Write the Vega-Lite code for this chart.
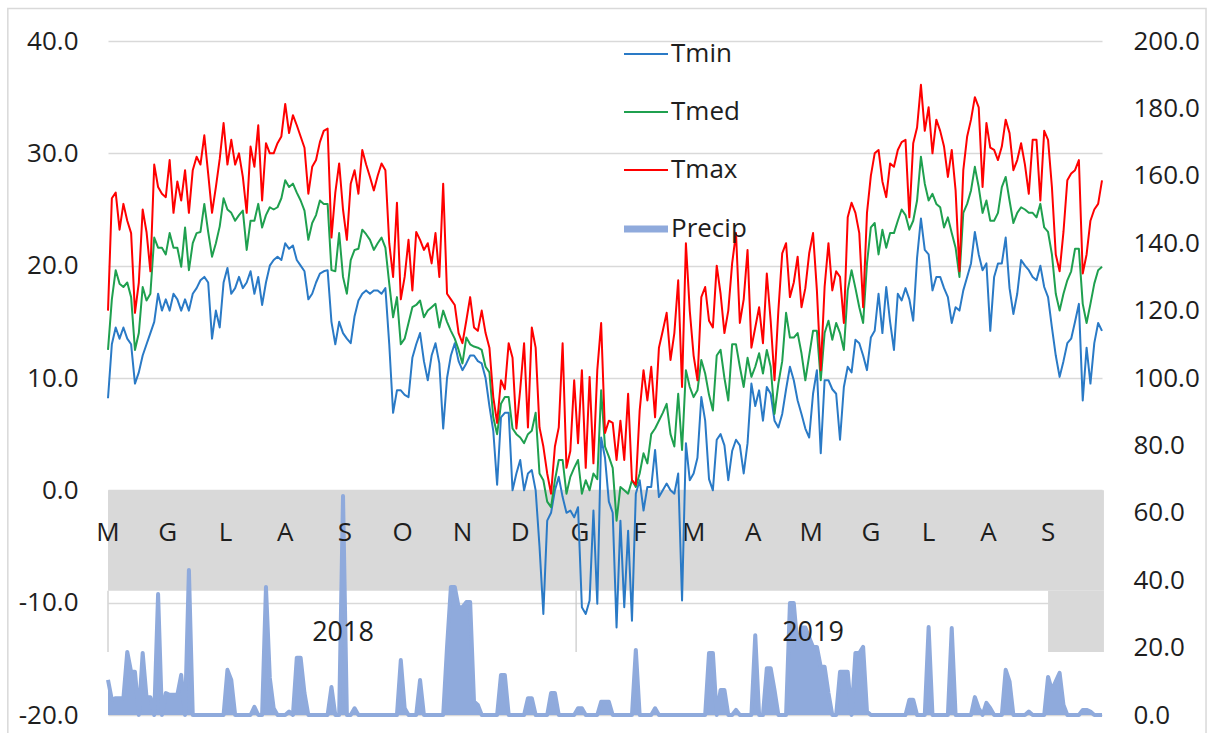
{
"$schema": "https://vega.github.io/schema/vega-lite/v6.json",
"width": 994,
"height": 674,
"autosize": {"type": "none"},
"padding": {"left": 108, "top": 41, "right": 110, "bottom": 18},
"background": "#ffffff",
"config": {
  "view": {"stroke": null},
  "font": "Open Sans",
  "axis": {"labelFont": "Open Sans", "labelFontSize": 26, "labelColor": "#1e1e1e", "ticks": false, "tickSize": 0, "domain": false, "title": null},
  "legend": {"labelFont": "Open Sans"}
},
"datasets": {
"wx": [
{"date":"2018-05-01","Tmin":8.2,"Tmed":12.5,"Tmax":16,"Precip":10.4},
{"date":"2018-05-03","Tmin":13,"Tmed":17,"Tmax":26,"Precip":4.5},
{"date":"2018-05-05","Tmin":14.5,"Tmed":19.6,"Tmax":26.5,"Precip":5},
{"date":"2018-05-07","Tmin":13.5,"Tmed":18.4,"Tmax":23.2,"Precip":5},
{"date":"2018-05-09","Tmin":14.5,"Tmed":18.1,"Tmax":25.5,"Precip":5},
{"date":"2018-05-11","Tmin":13.5,"Tmed":18.5,"Tmax":24,"Precip":18.7},
{"date":"2018-05-13","Tmin":13,"Tmed":17.2,"Tmax":22.9,"Precip":12.8},
{"date":"2018-05-15","Tmin":9.5,"Tmed":12.5,"Tmax":15.8,"Precip":12.8},
{"date":"2018-05-17","Tmin":10.5,"Tmed":14,"Tmax":18.5,"Precip":0},
{"date":"2018-05-19","Tmin":12,"Tmed":18.1,"Tmax":25,"Precip":18.4},
{"date":"2018-05-21","Tmin":13,"Tmed":16.9,"Tmax":23,"Precip":5.3},
{"date":"2018-05-23","Tmin":14,"Tmed":17.5,"Tmax":19.5,"Precip":5.3},
{"date":"2018-05-25","Tmin":15,"Tmed":22.5,"Tmax":29,"Precip":0},
{"date":"2018-05-27","Tmin":17.5,"Tmed":21.6,"Tmax":27,"Precip":35.9},
{"date":"2018-05-29","Tmin":16,"Tmed":21.6,"Tmax":26.4,"Precip":0},
{"date":"2018-05-31","Tmin":17,"Tmed":21,"Tmax":26.1,"Precip":6.5},
{"date":"2018-06-02","Tmin":16,"Tmed":22.9,"Tmax":29.4,"Precip":6},
{"date":"2018-06-04","Tmin":17.5,"Tmed":21.6,"Tmax":24.7,"Precip":6},
{"date":"2018-06-06","Tmin":17,"Tmed":21.6,"Tmax":27.5,"Precip":6},
{"date":"2018-06-08","Tmin":16,"Tmed":19.9,"Tmax":25.8,"Precip":11.9},
{"date":"2018-06-10","Tmin":17,"Tmed":23.4,"Tmax":28.5,"Precip":0},
{"date":"2018-06-12","Tmin":16,"Tmed":19.6,"Tmax":24.7,"Precip":43},
{"date":"2018-06-14","Tmin":17.5,"Tmed":22,"Tmax":28.5,"Precip":0},
{"date":"2018-06-16","Tmin":18,"Tmed":22.9,"Tmax":29.7,"Precip":0},
{"date":"2018-06-18","Tmin":18.7,"Tmed":23,"Tmax":29,"Precip":0},
{"date":"2018-06-20","Tmin":19,"Tmed":25.5,"Tmax":31.6,"Precip":0},
{"date":"2018-06-22","Tmin":18.5,"Tmed":23,"Tmax":28.2,"Precip":0},
{"date":"2018-06-24","Tmin":13.5,"Tmed":20.8,"Tmax":24.7,"Precip":0},
{"date":"2018-06-26","Tmin":16,"Tmed":22,"Tmax":27,"Precip":0},
{"date":"2018-06-28","Tmin":14.5,"Tmed":23.5,"Tmax":29.5,"Precip":0},
{"date":"2018-06-30","Tmin":18.5,"Tmed":26,"Tmax":32.7,"Precip":0},
{"date":"2018-07-02","Tmin":19.8,"Tmed":25,"Tmax":29,"Precip":13.4},
{"date":"2018-07-04","Tmin":17.5,"Tmed":24.7,"Tmax":31.2,"Precip":10.4},
{"date":"2018-07-06","Tmin":18,"Tmed":24,"Tmax":29,"Precip":0},
{"date":"2018-07-08","Tmin":19,"Tmed":24.5,"Tmax":30,"Precip":0},
{"date":"2018-07-10","Tmin":18,"Tmed":24.9,"Tmax":27.9,"Precip":0},
{"date":"2018-07-12","Tmin":18.5,"Tmed":21.4,"Tmax":24.7,"Precip":0},
{"date":"2018-07-14","Tmin":19.5,"Tmed":24,"Tmax":30.6,"Precip":0},
{"date":"2018-07-16","Tmin":17.5,"Tmed":24,"Tmax":28.8,"Precip":2.4},
{"date":"2018-07-18","Tmin":19,"Tmed":25.5,"Tmax":32.5,"Precip":0},
{"date":"2018-07-20","Tmin":16.5,"Tmed":23.4,"Tmax":25.8,"Precip":0},
{"date":"2018-07-22","Tmin":18.5,"Tmed":24.5,"Tmax":30.9,"Precip":38},
{"date":"2018-07-24","Tmin":20,"Tmed":25.2,"Tmax":30,"Precip":11},
{"date":"2018-07-26","Tmin":20.5,"Tmed":25,"Tmax":30,"Precip":2},
{"date":"2018-07-28","Tmin":20.8,"Tmed":25.2,"Tmax":30.9,"Precip":0},
{"date":"2018-07-30","Tmin":20.5,"Tmed":26,"Tmax":31.5,"Precip":0},
{"date":"2018-08-01","Tmin":22,"Tmed":27.6,"Tmax":34.4,"Precip":0},
{"date":"2018-08-03","Tmin":21.5,"Tmed":27,"Tmax":31.8,"Precip":1},
{"date":"2018-08-05","Tmin":21.8,"Tmed":27.3,"Tmax":33.4,"Precip":0},
{"date":"2018-08-07","Tmin":20.5,"Tmed":26.5,"Tmax":32.5,"Precip":17},
{"date":"2018-08-09","Tmin":20,"Tmed":25.8,"Tmax":31.5,"Precip":17},
{"date":"2018-08-11","Tmin":19.5,"Tmed":24.9,"Tmax":30.5,"Precip":6.5},
{"date":"2018-08-13","Tmin":17,"Tmed":22.3,"Tmax":26.4,"Precip":0},
{"date":"2018-08-15","Tmin":17.5,"Tmed":23.8,"Tmax":28.8,"Precip":0},
{"date":"2018-08-17","Tmin":18.5,"Tmed":24.5,"Tmax":29.4,"Precip":0},
{"date":"2018-08-19","Tmin":19.3,"Tmed":25.8,"Tmax":31,"Precip":0},
{"date":"2018-08-21","Tmin":19.5,"Tmed":25.5,"Tmax":32,"Precip":0},
{"date":"2018-08-23","Tmin":19.6,"Tmed":25.5,"Tmax":32.2,"Precip":0},
{"date":"2018-08-25","Tmin":15,"Tmed":19.6,"Tmax":22.5,"Precip":8.3},
{"date":"2018-08-27","Tmin":13,"Tmed":19.5,"Tmax":26.5,"Precip":0},
{"date":"2018-08-29","Tmin":15,"Tmed":22.9,"Tmax":29.1,"Precip":0},
{"date":"2018-08-31","Tmin":14,"Tmed":19,"Tmax":25,"Precip":65},
{"date":"2018-09-02","Tmin":13.5,"Tmed":17.5,"Tmax":22.3,"Precip":0},
{"date":"2018-09-04","Tmin":13.1,"Tmed":20.5,"Tmax":27.3,"Precip":0},
{"date":"2018-09-06","Tmin":15.5,"Tmed":21.4,"Tmax":28.5,"Precip":2},
{"date":"2018-09-08","Tmin":16.9,"Tmed":21.5,"Tmax":26.4,"Precip":0},
{"date":"2018-09-10","Tmin":17.5,"Tmed":23.2,"Tmax":30.3,"Precip":0},
{"date":"2018-09-12","Tmin":17.8,"Tmed":22.8,"Tmax":29,"Precip":0},
{"date":"2018-09-14","Tmin":17.5,"Tmed":22.3,"Tmax":27.9,"Precip":0},
{"date":"2018-09-16","Tmin":17.8,"Tmed":21.4,"Tmax":26.7,"Precip":0},
{"date":"2018-09-18","Tmin":17.8,"Tmed":22,"Tmax":28,"Precip":0},
{"date":"2018-09-20","Tmin":17.5,"Tmed":22.5,"Tmax":29.1,"Precip":0},
{"date":"2018-09-22","Tmin":18,"Tmed":21.6,"Tmax":28.5,"Precip":0},
{"date":"2018-09-24","Tmin":13,"Tmed":18.4,"Tmax":22,"Precip":0},
{"date":"2018-09-26","Tmin":6.9,"Tmed":15.4,"Tmax":19,"Precip":0},
{"date":"2018-09-28","Tmin":8.9,"Tmed":17.2,"Tmax":25.6,"Precip":0},
{"date":"2018-09-30","Tmin":8.9,"Tmed":13,"Tmax":17,"Precip":16.3},
{"date":"2018-10-02","Tmin":8.5,"Tmed":13.5,"Tmax":19,"Precip":2},
{"date":"2018-10-04","Tmin":8.3,"Tmed":14.9,"Tmax":22.3,"Precip":0},
{"date":"2018-10-06","Tmin":11.8,"Tmed":16.3,"Tmax":17.8,"Precip":0},
{"date":"2018-10-08","Tmin":13,"Tmed":16.5,"Tmax":23,"Precip":0},
{"date":"2018-10-10","Tmin":14,"Tmed":16.9,"Tmax":22.3,"Precip":10.4},
{"date":"2018-10-12","Tmin":11.5,"Tmed":15.4,"Tmax":21.4,"Precip":0},
{"date":"2018-10-14","Tmin":9.8,"Tmed":16,"Tmax":22,"Precip":0},
{"date":"2018-10-16","Tmin":12,"Tmed":16.3,"Tmax":20.2,"Precip":0},
{"date":"2018-10-18","Tmin":13.1,"Tmed":16.6,"Tmax":22.9,"Precip":0},
{"date":"2018-10-20","Tmin":11.3,"Tmed":14.5,"Tmax":19,"Precip":0},
{"date":"2018-10-22","Tmin":5.5,"Tmed":16,"Tmax":27.3,"Precip":0},
{"date":"2018-10-24","Tmin":10,"Tmed":15,"Tmax":17.5,"Precip":20.2},
{"date":"2018-10-26","Tmin":12,"Tmed":14.2,"Tmax":17,"Precip":38},
{"date":"2018-10-28","Tmin":13.1,"Tmed":13.5,"Tmax":16.5,"Precip":38},
{"date":"2018-10-30","Tmin":11.5,"Tmed":12.5,"Tmax":14,"Precip":32},
{"date":"2018-11-01","Tmin":10.7,"Tmed":11.3,"Tmax":13.1,"Precip":32},
{"date":"2018-11-03","Tmin":11.3,"Tmed":13.6,"Tmax":15.1,"Precip":33.5},
{"date":"2018-11-05","Tmin":12,"Tmed":13,"Tmax":17.2,"Precip":33.5},
{"date":"2018-11-07","Tmin":12,"Tmed":12.8,"Tmax":14.5,"Precip":4},
{"date":"2018-11-09","Tmin":11.5,"Tmed":12.7,"Tmax":14.2,"Precip":3},
{"date":"2018-11-11","Tmin":11.3,"Tmed":12.5,"Tmax":16,"Precip":0},
{"date":"2018-11-13","Tmin":10,"Tmed":11,"Tmax":14,"Precip":0},
{"date":"2018-11-15","Tmin":7.5,"Tmed":10.5,"Tmax":12.7,"Precip":0},
{"date":"2018-11-17","Tmin":5.3,"Tmed":6.5,"Tmax":8.3,"Precip":0},
{"date":"2018-11-19","Tmin":0.5,"Tmed":5,"Tmax":6,"Precip":0},
{"date":"2018-11-21","Tmin":6.5,"Tmed":7.7,"Tmax":9.8,"Precip":11.9},
{"date":"2018-11-23","Tmin":6.9,"Tmed":8.3,"Tmax":9,"Precip":11.9},
{"date":"2018-11-25","Tmin":6.9,"Tmed":8.3,"Tmax":13.1,"Precip":0},
{"date":"2018-11-27","Tmin":0,"Tmed":5.5,"Tmax":11.8,"Precip":0},
{"date":"2018-11-29","Tmin":1.5,"Tmed":5,"Tmax":5.5,"Precip":0},
{"date":"2018-12-01","Tmin":2.7,"Tmed":4.7,"Tmax":9,"Precip":0},
{"date":"2018-12-03","Tmin":0,"Tmed":4.2,"Tmax":13.1,"Precip":0},
{"date":"2018-12-05","Tmin":1.5,"Tmed":5,"Tmax":5.6,"Precip":5},
{"date":"2018-12-07","Tmin":1.8,"Tmed":5.3,"Tmax":14.5,"Precip":5},
{"date":"2018-12-09","Tmin":0,"Tmed":6.9,"Tmax":12.7,"Precip":0},
{"date":"2018-12-11","Tmin":-5,"Tmed":1.5,"Tmax":5.6,"Precip":0},
{"date":"2018-12-13","Tmin":-11,"Tmed":0.9,"Tmax":3.9,"Precip":0},
{"date":"2018-12-15","Tmin":-2.7,"Tmed":-1,"Tmax":1.5,"Precip":0},
{"date":"2018-12-17","Tmin":-2,"Tmed":-1.5,"Tmax":-0.3,"Precip":6.5},
{"date":"2018-12-19","Tmin":0,"Tmed":0.9,"Tmax":3.9,"Precip":6.5},
{"date":"2018-12-21","Tmin":1.2,"Tmed":2.7,"Tmax":5.6,"Precip":0},
{"date":"2018-12-23","Tmin":-0.6,"Tmed":2.7,"Tmax":13.1,"Precip":0},
{"date":"2018-12-25","Tmin":-2,"Tmed":-0.3,"Tmax":2,"Precip":0},
{"date":"2018-12-27","Tmin":-1.8,"Tmed":1.2,"Tmax":3.5,"Precip":0},
{"date":"2018-12-29","Tmin":-2.4,"Tmed":2,"Tmax":9.8,"Precip":0},
{"date":"2018-12-31","Tmin":-1.5,"Tmed":2.7,"Tmax":4.2,"Precip":2},
{"date":"2019-01-02","Tmin":-10.4,"Tmed":-0.3,"Tmax":10.7,"Precip":2},
{"date":"2019-01-04","Tmin":-11,"Tmed":0.9,"Tmax":2,"Precip":0},
{"date":"2019-01-06","Tmin":-9.8,"Tmed":0,"Tmax":10.1,"Precip":0},
{"date":"2019-01-08","Tmin":-1.8,"Tmed":1.5,"Tmax":2.4,"Precip":0},
{"date":"2019-01-10","Tmin":-10.1,"Tmed":1,"Tmax":10.7,"Precip":0},
{"date":"2019-01-12","Tmin":4.7,"Tmed":8.9,"Tmax":14.9,"Precip":3.9},
{"date":"2019-01-14","Tmin":2.9,"Tmed":3.9,"Tmax":5.1,"Precip":3.9},
{"date":"2019-01-16","Tmin":-1,"Tmed":3,"Tmax":6.2,"Precip":3.9},
{"date":"2019-01-18","Tmin":-2,"Tmed":2,"Tmax":6,"Precip":0},
{"date":"2019-01-20","Tmin":-12.2,"Tmed":-2.7,"Tmax":2.7,"Precip":0},
{"date":"2019-01-22","Tmin":-2.7,"Tmed":0.3,"Tmax":6.2,"Precip":0},
{"date":"2019-01-24","Tmin":-10.4,"Tmed":0,"Tmax":2.7,"Precip":0},
{"date":"2019-01-26","Tmin":-3.6,"Tmed":-0.3,"Tmax":8.6,"Precip":0},
{"date":"2019-01-28","Tmin":-11.6,"Tmed":0.9,"Tmax":0.9,"Precip":0},
{"date":"2019-01-30","Tmin":-0.3,"Tmed":0.3,"Tmax":0.5,"Precip":19.3},
{"date":"2019-02-01","Tmin":0.9,"Tmed":1.5,"Tmax":7.1,"Precip":0},
{"date":"2019-02-03","Tmin":-1.8,"Tmed":3.3,"Tmax":10.7,"Precip":0},
{"date":"2019-02-05","Tmin":0.3,"Tmed":2.4,"Tmax":8,"Precip":0},
{"date":"2019-02-07","Tmin":0.3,"Tmed":5,"Tmax":11,"Precip":0},
{"date":"2019-02-09","Tmin":3.6,"Tmed":5.5,"Tmax":6.5,"Precip":2},
{"date":"2019-02-11","Tmin":-0.6,"Tmed":6.2,"Tmax":12.7,"Precip":0},
{"date":"2019-02-13","Tmin":0,"Tmed":6.9,"Tmax":14.2,"Precip":0},
{"date":"2019-02-15","Tmin":0.6,"Tmed":7.7,"Tmax":15.8,"Precip":0},
{"date":"2019-02-17","Tmin":0,"Tmed":5,"Tmax":11.6,"Precip":0},
{"date":"2019-02-19","Tmin":-0.3,"Tmed":3.9,"Tmax":14,"Precip":0},
{"date":"2019-02-21","Tmin":1.5,"Tmed":8.6,"Tmax":18.7,"Precip":0},
{"date":"2019-02-23","Tmin":-9.8,"Tmed":3.6,"Tmax":9.2,"Precip":0},
{"date":"2019-02-25","Tmin":4.2,"Tmed":10.7,"Tmax":22,"Precip":0},
{"date":"2019-02-27","Tmin":0.9,"Tmed":9.2,"Tmax":16,"Precip":0},
{"date":"2019-03-01","Tmin":1.5,"Tmed":8.3,"Tmax":12,"Precip":0},
{"date":"2019-03-03","Tmin":2.9,"Tmed":8.9,"Tmax":9.8,"Precip":0},
{"date":"2019-03-05","Tmin":8.3,"Tmed":11.6,"Tmax":17.2,"Precip":0},
{"date":"2019-03-07","Tmin":6.2,"Tmed":10.4,"Tmax":18.1,"Precip":0},
{"date":"2019-03-09","Tmin":1,"Tmed":8.5,"Tmax":15.1,"Precip":18.4},
{"date":"2019-03-11","Tmin":0,"Tmed":7.1,"Tmax":14.5,"Precip":18.4},
{"date":"2019-03-13","Tmin":4.5,"Tmed":12,"Tmax":20,"Precip":0},
{"date":"2019-03-15","Tmin":5,"Tmed":12.5,"Tmax":17.5,"Precip":7.4},
{"date":"2019-03-17","Tmin":4,"Tmed":10,"Tmax":14,"Precip":7.4},
{"date":"2019-03-19","Tmin":0.9,"Tmed":8,"Tmax":16,"Precip":0},
{"date":"2019-03-21","Tmin":3.5,"Tmed":13,"Tmax":20.2,"Precip":0},
{"date":"2019-03-23","Tmin":4.5,"Tmed":13,"Tmax":22.9,"Precip":1.5},
{"date":"2019-03-25","Tmin":4,"Tmed":11,"Tmax":14.9,"Precip":0},
{"date":"2019-03-27","Tmin":1.5,"Tmed":9.2,"Tmax":17,"Precip":0},
{"date":"2019-03-29","Tmin":4.2,"Tmed":11.8,"Tmax":21.4,"Precip":0},
{"date":"2019-03-31","Tmin":9.5,"Tmed":10.1,"Tmax":12.7,"Precip":0},
{"date":"2019-04-02","Tmin":7.5,"Tmed":11,"Tmax":14.5,"Precip":23.7},
{"date":"2019-04-04","Tmin":8.9,"Tmed":12.2,"Tmax":16.3,"Precip":0},
{"date":"2019-04-06","Tmin":6.2,"Tmed":10.4,"Tmax":13.1,"Precip":0},
{"date":"2019-04-08","Tmin":9.2,"Tmed":12.5,"Tmax":19.3,"Precip":13.9},
{"date":"2019-04-10","Tmin":8.6,"Tmed":11,"Tmax":15.1,"Precip":13.9},
{"date":"2019-04-12","Tmin":6.2,"Tmed":6.8,"Tmax":9.8,"Precip":7.4},
{"date":"2019-04-14","Tmin":5.6,"Tmed":9.5,"Tmax":16,"Precip":0},
{"date":"2019-04-16","Tmin":6.8,"Tmed":11.5,"Tmax":21.1,"Precip":0},
{"date":"2019-04-18","Tmin":9,"Tmed":15.8,"Tmax":22,"Precip":0},
{"date":"2019-04-20","Tmin":11,"Tmed":13.6,"Tmax":17.2,"Precip":33.2},
{"date":"2019-04-22","Tmin":9.8,"Tmed":13.6,"Tmax":18.5,"Precip":33.2},
{"date":"2019-04-24","Tmin":8,"Tmed":14,"Tmax":20.8,"Precip":20},
{"date":"2019-04-26","Tmin":6.8,"Tmed":12.2,"Tmax":16.3,"Precip":26},
{"date":"2019-04-28","Tmin":5.5,"Tmed":9.8,"Tmax":18,"Precip":26},
{"date":"2019-04-30","Tmin":4.7,"Tmed":12,"Tmax":21.1,"Precip":23},
{"date":"2019-05-02","Tmin":8.6,"Tmed":14.2,"Tmax":22.9,"Precip":20.2},
{"date":"2019-05-04","Tmin":10.7,"Tmed":14.2,"Tmax":17.8,"Precip":20.2},
{"date":"2019-05-06","Tmin":3.3,"Tmed":9.8,"Tmax":10.7,"Precip":14.3},
{"date":"2019-05-08","Tmin":9.8,"Tmed":14,"Tmax":18.1,"Precip":14.3},
{"date":"2019-05-10","Tmin":9.8,"Tmed":15.1,"Tmax":22,"Precip":6.5},
{"date":"2019-05-12","Tmin":9,"Tmed":13.4,"Tmax":17.8,"Precip":0},
{"date":"2019-05-14","Tmin":8.6,"Tmed":14.9,"Tmax":19.5,"Precip":0},
{"date":"2019-05-16","Tmin":4.5,"Tmed":14,"Tmax":19,"Precip":12.8},
{"date":"2019-05-18","Tmin":9.2,"Tmed":12.5,"Tmax":14.9,"Precip":12.8},
{"date":"2019-05-20","Tmin":11,"Tmed":17.8,"Tmax":24.3,"Precip":12.8},
{"date":"2019-05-22","Tmin":10.5,"Tmed":19.6,"Tmax":25.6,"Precip":0},
{"date":"2019-05-24","Tmin":13.4,"Tmed":18,"Tmax":24.7,"Precip":18.4},
{"date":"2019-05-26","Tmin":13.1,"Tmed":16.3,"Tmax":22.9,"Precip":18.4},
{"date":"2019-05-28","Tmin":12,"Tmed":14.9,"Tmax":16.3,"Precip":20.2},
{"date":"2019-05-30","Tmin":10.7,"Tmed":20.2,"Tmax":24.7,"Precip":1},
{"date":"2019-06-01","Tmin":13.6,"Tmed":23.4,"Tmax":28,"Precip":0},
{"date":"2019-06-03","Tmin":14.2,"Tmed":23.8,"Tmax":30,"Precip":0},
{"date":"2019-06-05","Tmin":17.5,"Tmed":21,"Tmax":30.3,"Precip":0},
{"date":"2019-06-07","Tmin":14,"Tmed":23.2,"Tmax":27.5,"Precip":0},
{"date":"2019-06-09","Tmin":18.1,"Tmed":21.6,"Tmax":26.1,"Precip":0},
{"date":"2019-06-11","Tmin":15,"Tmed":22.9,"Tmax":29.1,"Precip":0},
{"date":"2019-06-13","Tmin":12.5,"Tmed":22.9,"Tmax":28.8,"Precip":0},
{"date":"2019-06-15","Tmin":17.5,"Tmed":24,"Tmax":30.3,"Precip":0},
{"date":"2019-06-17","Tmin":16.9,"Tmed":25,"Tmax":31,"Precip":0},
{"date":"2019-06-19","Tmin":18,"Tmed":24.5,"Tmax":31.2,"Precip":0},
{"date":"2019-06-21","Tmin":17,"Tmed":23.2,"Tmax":24.3,"Precip":4.5},
{"date":"2019-06-23","Tmin":15.1,"Tmed":24,"Tmax":30.9,"Precip":4.5},
{"date":"2019-06-25","Tmin":20.7,"Tmed":25.8,"Tmax":32.3,"Precip":0},
{"date":"2019-06-27","Tmin":24.2,"Tmed":29.7,"Tmax":36.1,"Precip":0},
{"date":"2019-06-29","Tmin":21.4,"Tmed":27.3,"Tmax":32,"Precip":0},
{"date":"2019-07-01","Tmin":21,"Tmed":25.8,"Tmax":34.1,"Precip":26.1},
{"date":"2019-07-03","Tmin":17.8,"Tmed":26.4,"Tmax":30,"Precip":0},
{"date":"2019-07-05","Tmin":19,"Tmed":25.5,"Tmax":33,"Precip":0},
{"date":"2019-07-07","Tmin":19,"Tmed":25.2,"Tmax":32,"Precip":0},
{"date":"2019-07-09","Tmin":18,"Tmed":23.4,"Tmax":30.6,"Precip":0},
{"date":"2019-07-11","Tmin":17.2,"Tmed":24.3,"Tmax":27.9,"Precip":0},
{"date":"2019-07-13","Tmin":14.9,"Tmed":22.9,"Tmax":30.3,"Precip":25.8},
{"date":"2019-07-15","Tmin":16.3,"Tmed":21.6,"Tmax":26.7,"Precip":0},
{"date":"2019-07-17","Tmin":16,"Tmed":19,"Tmax":19.5,"Precip":0},
{"date":"2019-07-19","Tmin":17.8,"Tmed":24.7,"Tmax":28.5,"Precip":0},
{"date":"2019-07-21","Tmin":19,"Tmed":25.5,"Tmax":31.5,"Precip":0},
{"date":"2019-07-23","Tmin":20.2,"Tmed":26.7,"Tmax":33,"Precip":0},
{"date":"2019-07-25","Tmin":23,"Tmed":28.8,"Tmax":35,"Precip":5.3},
{"date":"2019-07-27","Tmin":21,"Tmed":27,"Tmax":34.1,"Precip":2},
{"date":"2019-07-29","Tmin":19.6,"Tmed":24.7,"Tmax":27,"Precip":0},
{"date":"2019-07-31","Tmin":20.2,"Tmed":25.8,"Tmax":32.7,"Precip":3.6},
{"date":"2019-08-02","Tmin":14.2,"Tmed":24,"Tmax":30.5,"Precip":2},
{"date":"2019-08-04","Tmin":19,"Tmed":24,"Tmax":30.3,"Precip":0},
{"date":"2019-08-06","Tmin":20.2,"Tmed":24.7,"Tmax":29.4,"Precip":0},
{"date":"2019-08-08","Tmin":20.2,"Tmed":27,"Tmax":30.6,"Precip":0},
{"date":"2019-08-10","Tmin":22.5,"Tmed":27.9,"Tmax":33,"Precip":13.4},
{"date":"2019-08-12","Tmin":18,"Tmed":25.8,"Tmax":31.8,"Precip":10},
{"date":"2019-08-14","Tmin":15.7,"Tmed":23.8,"Tmax":28.5,"Precip":0},
{"date":"2019-08-16","Tmin":17.5,"Tmed":24.7,"Tmax":29.4,"Precip":0},
{"date":"2019-08-18","Tmin":20.5,"Tmed":25.2,"Tmax":30.9,"Precip":0},
{"date":"2019-08-20","Tmin":20,"Tmed":25,"Tmax":29,"Precip":0},
{"date":"2019-08-22","Tmin":19.6,"Tmed":24.7,"Tmax":26.4,"Precip":1},
{"date":"2019-08-24","Tmin":19,"Tmed":24.7,"Tmax":31.2,"Precip":0},
{"date":"2019-08-26","Tmin":18.7,"Tmed":24.3,"Tmax":31.2,"Precip":0},
{"date":"2019-08-28","Tmin":20,"Tmed":25.5,"Tmax":25.8,"Precip":0},
{"date":"2019-08-30","Tmin":18.1,"Tmed":23.4,"Tmax":32,"Precip":0},
{"date":"2019-09-01","Tmin":17.2,"Tmed":23,"Tmax":31.2,"Precip":11.3},
{"date":"2019-09-03","Tmin":14.5,"Tmed":21,"Tmax":27,"Precip":7.4},
{"date":"2019-09-05","Tmin":12,"Tmed":17.5,"Tmax":21,"Precip":10},
{"date":"2019-09-07","Tmin":10.1,"Tmed":16,"Tmax":19.5,"Precip":12.5},
{"date":"2019-09-09","Tmin":11.5,"Tmed":17.5,"Tmax":23,"Precip":3},
{"date":"2019-09-11","Tmin":13.1,"Tmed":18.7,"Tmax":27.6,"Precip":0},
{"date":"2019-09-13","Tmin":13.5,"Tmed":19.5,"Tmax":28.2,"Precip":0},
{"date":"2019-09-15","Tmin":15,"Tmed":21.5,"Tmax":28.5,"Precip":0},
{"date":"2019-09-17","Tmin":16.6,"Tmed":21.5,"Tmax":29.4,"Precip":0},
{"date":"2019-09-19","Tmin":8,"Tmed":16.6,"Tmax":19.3,"Precip":1.5},
{"date":"2019-09-21","Tmin":12.7,"Tmed":14.9,"Tmax":21,"Precip":1.5},
{"date":"2019-09-23","Tmin":9.5,"Tmed":16.6,"Tmax":24,"Precip":1},
{"date":"2019-09-25","Tmin":13.1,"Tmed":18.4,"Tmax":25,"Precip":0},
{"date":"2019-09-27","Tmin":14.9,"Tmed":19.6,"Tmax":25.5,"Precip":0},
{"date":"2019-09-29","Tmin":14.2,"Tmed":19.9,"Tmax":27.6,"Precip":0}
],
"months": [
{"date":"2018-05-01","label":"M"},{"date":"2018-06-01","label":"G"},{"date":"2018-07-01","label":"L"},{"date":"2018-08-01","label":"A"},
{"date":"2018-09-01","label":"S"},{"date":"2018-10-01","label":"O"},{"date":"2018-11-01","label":"N"},{"date":"2018-12-01","label":"D"},
{"date":"2019-01-01","label":"G"},{"date":"2019-02-01","label":"F"},{"date":"2019-03-01","label":"M"},{"date":"2019-04-01","label":"A"},
{"date":"2019-05-01","label":"M"},{"date":"2019-06-01","label":"G"},{"date":"2019-07-01","label":"L"},{"date":"2019-08-01","label":"A"},
{"date":"2019-09-01","label":"S"}
],
"years": [
{"date":"2018-08-31","label":"2018"},{"date":"2019-05-02","label":"2019"}
],
"dividers": [
{"date":"2018-05-01"},{"date":"2018-12-30"}
]
},
"layer": [
  {
    "layer": [
      {
        "data": {"values": [{}]},
        "mark": {"type": "rect", "fill": "transparent", "stroke": "#d9d9d9", "strokeWidth": 1.5},
        "encoding": {
          "x": {"datum": {"year": 2018, "month": 3, "date": 10, "utc": true}, "type": "temporal", "scale": {"type": "utc", "domain": [{"year": 2018, "month": 5, "date": 1, "utc": true}, {"year": 2019, "month": 9, "date": 29, "utc": true}], "nice": false}, "axis": null},
          "x2": {"datum": {"year": 2019, "month": 11, "date": 22, "utc": true}},
          "y": {"datum": 42.9, "type": "quantitative", "scale": {"domain": [-20, 40], "nice": false, "zero": false}, "axis": null},
          "y2": {"datum": -23}
        }
      },
      {
        "data": {"values": [{}]},
        "mark": {"type": "rect", "fill": "#d9d9d9"},
        "encoding": {
          "x": {"datum": {"year": 2018, "month": 5, "date": 1, "utc": true}, "type": "temporal", "scale": {"type": "utc", "domain": [{"year": 2018, "month": 5, "date": 1, "utc": true}, {"year": 2019, "month": 9, "date": 29, "utc": true}], "nice": false}, "axis": null},
          "x2": {"datum": {"year": 2019, "month": 9, "date": 30, "utc": true}},
          "y": {"datum": 0, "type": "quantitative", "scale": {"domain": [-20, 40], "nice": false, "zero": false}, "axis": null},
          "y2": {"datum": -8.95}
        }
      },
      {
        "data": {"values": [{}]},
        "mark": {"type": "rect", "fill": "#d9d9d9"},
        "encoding": {
          "x": {"datum": {"year": 2019, "month": 9, "date": 1, "utc": true}, "type": "temporal", "scale": {"type": "utc", "domain": [{"year": 2018, "month": 5, "date": 1, "utc": true}, {"year": 2019, "month": 9, "date": 29, "utc": true}], "nice": false}, "axis": null},
          "x2": {"datum": {"year": 2019, "month": 9, "date": 30, "utc": true}},
          "y": {"datum": -8.95, "type": "quantitative", "scale": {"domain": [-20, 40], "nice": false, "zero": false}, "axis": null},
          "y2": {"datum": -14.4}
        }
      },
      {
        "data": {"name": "dividers"},
        "mark": {"type": "rule", "color": "#c8c8c8", "strokeWidth": 1.2},
        "encoding": {
          "x": {"field": "date", "type": "temporal", "scale": {"type": "utc", "domain": [{"year": 2018, "month": 5, "date": 1, "utc": true}, {"year": 2019, "month": 9, "date": 29, "utc": true}], "nice": false}, "axis": null},
          "y": {"datum": -8.95, "type": "quantitative", "scale": {"domain": [-20, 40], "nice": false, "zero": false}, "axis": null},
          "y2": {"datum": -14.4}
        }
      }
    ]
  },
  {
    "data": {"name": "wx"},
    "mark": {"type": "area", "color": "#8faadc", "opacity": 1, "line": {"color": "#8faadc", "strokeWidth": 4, "strokeJoin": "round"}},
    "encoding": {
      "x": {"field": "date", "type": "temporal", "scale": {"type": "utc", "domain": [{"year": 2018, "month": 5, "date": 1, "utc": true}, {"year": 2019, "month": 9, "date": 29, "utc": true}], "nice": false}, "axis": null},
      "y": {"field": "Precip", "type": "quantitative", "scale": {"domain": [0, 200], "nice": false, "zero": false}, "axis": {"orient": "right", "values": [0, 20, 40, 60, 80, 100, 120, 140, 160, 180, 200], "format": ".1f", "grid": false, "labelPadding": 31, "title": null}}
    }
  },
  {
    "layer": [
      {
        "data": {"name": "months"},
        "mark": {"type": "text", "fontSize": 26, "font": "Open Sans", "color": "#1e1e1e", "align": "center", "baseline": "middle"},
        "encoding": {
          "x": {"field": "date", "type": "temporal", "scale": {"type": "utc", "domain": [{"year": 2018, "month": 5, "date": 1, "utc": true}, {"year": 2019, "month": 9, "date": 29, "utc": true}], "nice": false}, "axis": null},
          "y": {"datum": -3.8, "type": "quantitative"},
          "text": {"field": "label"}
        }
      },
      {
        "data": {"name": "years"},
        "mark": {"type": "text", "fontSize": 27, "font": "Open Sans", "color": "#1e1e1e", "align": "center", "baseline": "middle"},
        "encoding": {
          "x": {"field": "date", "type": "temporal", "scale": {"type": "utc", "domain": [{"year": 2018, "month": 5, "date": 1, "utc": true}, {"year": 2019, "month": 9, "date": 29, "utc": true}], "nice": false}, "axis": null},
          "y": {"datum": -12.7, "type": "quantitative"},
          "text": {"field": "label"}
        }
      },
      {
        "data": {"name": "wx"},
        "transform": [{"fold": ["Tmin", "Tmed", "Tmax"], "as": ["series", "temp"]}],
        "mark": {"type": "line", "strokeWidth": 2, "strokeJoin": "round"},
        "encoding": {
          "x": {"field": "date", "type": "temporal", "scale": {"type": "utc", "domain": [{"year": 2018, "month": 5, "date": 1, "utc": true}, {"year": 2019, "month": 9, "date": 29, "utc": true}], "nice": false}, "axis": null},
          "y": {"field": "temp", "type": "quantitative", "scale": {"domain": [-20, 40], "nice": false, "zero": false},
                "axis": {"orient": "left", "values": [-20, -10, 0, 10, 20, 30, 40], "format": ".1f", "labelExpr": "replace(datum.label, '\u2212', '-')", "grid": true, "gridColor": "#d9d9d9", "gridWidth": 1.5, "labelPadding": 30, "title": null}},
          "color": {
            "field": "series", "type": "nominal",
            "scale": {"domain": ["Tmin", "Tmed", "Tmax", "Precip"], "range": ["#2a7ac6", "#1fa04f", "#ff0000", "#8faadc"]},
            "legend": {
              "title": null, "orient": "none", "legendX": 525, "legendY": 0, "padding": 0,
              "symbolType": "stroke", "symbolSize": 1936, "symbolStrokeWidth": 2,
              "labelFontSize": 26, "labelFont": "Open Sans", "labelColor": "#1e1e1e", "labelOffset": 12, "rowPadding": 32,
              "encode": {"symbols": {"update": {"strokeWidth": {"signal": "datum.value === 'Precip' ? 7 : 2"}}}}
            }
          }
        }
      }
    ]
  }
],
"resolve": {"scale": {"y": "independent"}}
}
